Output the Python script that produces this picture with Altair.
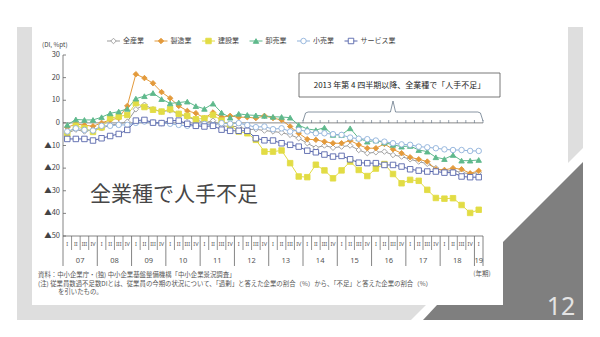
import altair as alt
import pandas as pd

# ---------------- data ----------------
quarter_labels = ["I", "II", "III", "IV"]
year_labels = ["07", "08", "09", "10", "11", "12", "13", "14", "15", "16", "17", "18", "19"]
series_names = ["全産業", "製造業", "建設業", "卸売業", "小売業", "サービス業"]
y_ticks = [30, 20, 10, 0, -10, -20, -30, -40, -50]

all_industries = [-4.5, -3.0, -3.8, -3.0, -2.4, -1.0, -0.5, 0.5, 6.0, 8.0, 6.0, 5.0,
                  5.5, 4.0, 2.5, 1.5, 0.0, 1.0, -1.3, -1.6, -1.6, -3.0, -2.8, -3.4,
                  -3.8, -4.3, -5.3, -6.8, -9.0, -11.0, -10.0, -11.0, -10.5, -10.0, -12.0, -13.4,
                  -13.0, -12.7, -14.2, -14.9, -16.1, -17.1, -18.1, -20.0, -21.5, -21.0, -22.0, -22.5,
                  -22.0]
manufacturing = [-2.0, -0.5, -1.0, -1.5, 0.0, 1.3, 2.1, 7.5, 21.5, 19.8, 17.5, 13.6,
                 10.9, 7.5, 5.3, 4.3, 2.1, 4.6, 2.5, 3.1, 2.5, 2.5, 2.1, 3.1,
                 2.1, 1.3, -1.6, -4.6, -7.2, -7.5, -8.3, -9.0, -9.0, -7.8, -9.7, -11.2,
                 -11.2, -9.3, -11.7, -13.4, -15.2, -16.1, -17.1, -20.5, -20.8, -20.0, -20.5, -22.3,
                 -21.2]
construction = [-5.0, -1.3, -2.4, -4.0, -2.0, 2.1, 2.8, 3.5, 8.7, 7.0, 5.8, 5.0,
                6.0, 4.0, 3.1, 1.6, 2.0, 3.5, 1.0, -1.0, -3.8, -4.6, -7.5, -12.7,
                -12.7, -12.2, -17.8, -23.7, -24.0, -18.5, -21.0, -24.5, -21.0, -17.1, -20.8, -23.5,
                -20.2, -18.2, -22.6, -26.7, -25.2, -25.6, -29.6, -33.2, -33.5, -33.3, -36.3, -39.8,
                -38.4]
wholesale = [-0.9, 1.5, 1.3, 1.3, 2.5, 4.2, 5.0, 6.2, 10.7, 11.8, 13.2, 10.5,
             8.6, 9.0, 9.4, 7.4, 6.2, 8.5, 4.5, 2.3, 4.0, 3.5, 3.3, 3.1,
             2.7, 2.6, 2.3, -1.0, -2.7, -3.2, -2.1, -5.3, -5.3, -2.4, -6.8, -8.3,
             -7.8, -8.7, -9.7, -10.5, -10.2, -12.0, -12.7, -15.2, -16.0, -14.2, -16.7, -16.7,
             -16.4]
retail = [-3.8, -2.4, -3.1, -3.4, -1.3, -1.3, -0.9, -0.9, 0.0, 0.6, 0.1, -0.1,
          -0.4, -0.9, -1.3, -1.3, -0.5, -1.0, -0.1, -0.4, -0.1, -1.0, -1.9, -1.6,
          -2.8, -2.4, -3.8, -3.1, -3.8, -4.6, -4.6, -5.0, -5.3, -6.5, -7.0, -7.2,
          -7.8, -8.3, -9.0, -9.5, -9.7, -10.5, -10.8, -11.2, -11.7, -12.0, -12.0, -12.4,
          -12.4]
services = [-7.1, -7.1, -7.1, -7.8, -6.8, -5.8, -4.9, -3.1, 1.0, 1.3, 0.1, -0.1,
            1.0, 1.0, -0.4, -1.3, -1.6, -1.3, -3.0, -3.5, -3.5, -3.5, -6.8, -7.7,
            -7.8, -9.0, -9.7, -10.5, -12.3, -13.0, -14.0, -14.9, -14.6, -16.1, -17.6, -17.8,
            -17.8, -18.6, -18.6, -19.3, -20.5, -21.1, -21.5, -21.5, -22.0, -22.0, -23.7, -24.0,
            -24.0]

series_values = [all_industries, manufacturing, construction, wholesale, retail, services]

title_note = "全業種で人手不足"
box_note = "2013 年第 4 四半期以降、全業種で「人手不足」"
source_line = "資料：中小企業庁・(独) 中小企業基盤整備機構「中小企業景況調査」"
note_line1 = "(注) 従業員数過不足数DIとは、従業員の今期の状況について、「過剰」と答えた企業の割合（%）から、「不足」と答えた企業の割合（%）"
note_line2 = "を引いたもの。"
y_title = "(DI, %pt)"
x_unit = "(年期)"
page_number = "12"

# ---------------- styles / layout ----------------
FONT = "Noto Sans CJK JP"
W, H = 420, 181
PL, PT = 63, 55
N_Q = len(all_industries)

line_colors = ["#9b9b9b", "#E39A3B", "#E2DC45", "#5FB98C", "#8FB1DA", "#5867AC"]
fill_colors = ["#ffffff", "#E39A3B", "#E2DC45", "#5FB98C", "#ffffff", "#ffffff"]
shapes = ["diamond", "diamond", "square", "triangle-up", "circle", "square"]
sizes = [30, 30, 18, 24, 20, 18]


def px(v):
    return v - PL


def py(v):
    return v - PT


x_scale = alt.Scale(domain=[0, N_Q], nice=False, zero=False)
y_scale = alt.Scale(domain=[-50, 30], nice=False, zero=False)

rows = []
for name, vals in zip(series_names, series_values):
    for i, v in enumerate(vals):
        rows.append({"series": name, "q": i + 0.5, "value": v})
df = pd.DataFrame(rows)

one = pd.DataFrame({"a": [0]})

# ---------------- slide decoration ----------------
frame_outer = alt.Chart(one).mark_rect(color="#dedede").encode(
    x=alt.value(px(17)), x2=alt.value(px(583)), y=alt.value(py(27)), y2=alt.value(py(320)))
frame_inner = alt.Chart(one).mark_rect(color="#ffffff").encode(
    x=alt.value(px(32)), x2=alt.value(px(568)), y=alt.value(py(27)), y2=alt.value(py(305)))

gap_bottom = alt.Chart(pd.DataFrame({"xx": [px(411), px(426), px(445)],
                                     "t": [py(320), py(305), py(305)],
                                     "b": [py(320), py(320), py(320)]})).mark_area(color="#ffffff").encode(
    x=alt.X("xx:Q", scale=None, axis=None), y=alt.Y("t:Q", scale=None, axis=None), y2="b:Q")
gap_right = alt.Chart(pd.DataFrame({"xx": [px(568), px(583)],
                                    "t": [py(163), py(148)],
                                    "b": [py(190), py(175)]})).mark_area(color="#ffffff").encode(
    x=alt.X("xx:Q", scale=None, axis=None), y=alt.Y("t:Q", scale=None, axis=None), y2="b:Q")
dark_band = alt.Chart(pd.DataFrame({"xx": [px(423), px(437), px(504)],
                                    "t": [py(320), py(305), py(305)],
                                    "b": [py(320), py(320), py(320)]})).mark_area(color="#7f7f7f").encode(
    x=alt.X("xx:Q", scale=None, axis=None), y=alt.Y("t:Q", scale=None, axis=None), y2="b:Q")
dark_diag = alt.Chart(pd.DataFrame({"xx": [px(503), px(583)],
                                    "t": [py(242), py(162)],
                                    "b": [py(320), py(320)]})).mark_area(color="#7f7f7f").encode(
    x=alt.X("xx:Q", scale=None, axis=None), y=alt.Y("t:Q", scale=None, axis=None), y2="b:Q")
page_num = alt.Chart(one).mark_text(text=page_number, font="Noto Sans", fontSize=25,
                                    color="#e4e4e4", align="center", baseline="alphabetic").encode(
    x=alt.value(px(561)), y=alt.value(py(315)))

# ---------------- axes (drawn with scales) ----------------
zero_line = alt.Chart(pd.DataFrame({"v": [0]})).mark_rule(color="#6a6a6a", strokeWidth=0.8).encode(
    y=alt.Y("v:Q", scale=y_scale, axis=None), x=alt.value(0), x2=alt.value(W))
bottom_line = alt.Chart(one).mark_rule(color="#666", strokeWidth=0.8).encode(
    x=alt.value(0), x2=alt.value(W), y=alt.value(H))
yaxis_line = alt.Chart(pd.DataFrame({"v": [min(y_ticks)], "v2": [max(y_ticks)]})).mark_rule(
    color="#666", strokeWidth=0.8).encode(
    y=alt.Y("v:Q", scale=y_scale, axis=None), y2="v2:Q", x=alt.value(0))
ytick_rules = alt.Chart(pd.DataFrame({"v": y_ticks})).mark_rule(color="#666", strokeWidth=0.8).encode(
    y=alt.Y("v:Q", scale=y_scale, axis=None), x=alt.value(0), x2=alt.value(3))
ytick_text = alt.Chart(pd.DataFrame({"v": y_ticks})).transform_calculate(
    lab="datum.v < 0 ? '▲' + (-datum.v) : '' + datum.v").mark_text(
    font=FONT, fontSize=7.5, color="#444", align="right", baseline="middle").encode(
    y=alt.Y("v:Q", scale=y_scale, axis=None), x=alt.value(-3), text="lab:N")
ytitle_text = alt.Chart(one).mark_text(text=y_title, font=FONT, fontSize=6.3, color="#444",
                                       align="left", baseline="middle").encode(
    x=alt.value(px(42)), y=alt.value(py(44.5)))

bounds = list(range(N_Q + 1))
qb = pd.DataFrame({"b": [b for b in bounds if b % 4 != 0 and b != N_Q]})
yb = pd.DataFrame({"b": [b for b in bounds if b % 4 == 0 or b == N_Q]})
q_rules = alt.Chart(qb).mark_rule(color="#666", strokeWidth=0.7).encode(
    x=alt.X("b:Q", scale=x_scale, axis=None), y=alt.value(H), y2=alt.value(H + 14))
y_rules = alt.Chart(yb).mark_rule(color="#666", strokeWidth=0.8).encode(
    x=alt.X("b:Q", scale=x_scale, axis=None), y=alt.value(H), y2=alt.value(H + 30))

qlab = pd.DataFrame({"q": [i + 0.5 for i in range(N_Q)],
                     "t": [quarter_labels[i % 4] for i in range(N_Q)]})
q_text = alt.Chart(qlab).mark_text(font="Noto Sans", fontSize=5.5, color="#555").encode(
    x=alt.X("q:Q", scale=x_scale, axis=None), y=alt.value(H + 8), text="t:N")

ylab = pd.DataFrame({"q": [(4 * k + min(4 * k + 4, N_Q)) / 2 for k in range(len(year_labels))],
                     "t": year_labels})
yr_text = alt.Chart(ylab).mark_text(font="Noto Sans", fontSize=7.5, color="#555").encode(
    x=alt.X("q:Q", scale=x_scale, axis=None), y=alt.value(H + 25), text="t:N")
unit_text = alt.Chart(one).mark_text(text=x_unit, font=FONT, fontSize=6.5, color="#555").encode(
    x=alt.value(px(482)), y=alt.value(py(274)))

# ---------------- series ----------------
lines = alt.Chart(df).mark_line(strokeWidth=1).encode(
    x=alt.X("q:Q", scale=x_scale, axis=None),
    y=alt.Y("value:Q", scale=y_scale, axis=None),
    color=alt.Color("series:N", scale=alt.Scale(domain=series_names, range=line_colors), legend=None),
    detail="series:N",
)
points = alt.Chart(df).mark_point(filled=False, strokeWidth=0.9, opacity=1).encode(
    x=alt.X("q:Q", scale=x_scale, axis=None),
    y=alt.Y("value:Q", scale=y_scale, axis=None),
    shape=alt.Shape("series:N", scale=alt.Scale(domain=series_names, range=shapes), legend=None),
    stroke=alt.Stroke("series:N", scale=alt.Scale(domain=series_names, range=line_colors), legend=None),
    fill=alt.Fill("series:N", scale=alt.Scale(domain=series_names, range=fill_colors), legend=None),
    size=alt.Size("series:N", scale=alt.Scale(domain=series_names, range=sizes), legend=None),
)

# ---------------- legend (manual) ----------------
leg = pd.DataFrame({"series": series_names, "k": list(range(len(series_names)))})
leg_base = alt.Chart(leg).transform_calculate(
    x0=f"{px(107)} + 47.5*datum.k", x1=f"{px(107)} + 47.5*datum.k + 13",
    xm=f"{px(107)} + 47.5*datum.k + 6.5", xt=f"{px(107)} + 47.5*datum.k + 16")
leg_rule = leg_base.mark_rule(strokeWidth=1).encode(
    x=alt.X("x0:Q", scale=None, axis=None), x2="x1:Q", y=alt.value(py(41)),
    color=alt.Color("series:N", scale=alt.Scale(domain=series_names, range=line_colors), legend=None))
leg_pt = leg_base.mark_point(filled=False, strokeWidth=0.9, opacity=1).encode(
    x=alt.X("xm:Q", scale=None, axis=None), y=alt.value(py(41)),
    shape=alt.Shape("series:N", scale=alt.Scale(domain=series_names, range=shapes), legend=None),
    stroke=alt.Stroke("series:N", scale=alt.Scale(domain=series_names, range=line_colors), legend=None),
    fill=alt.Fill("series:N", scale=alt.Scale(domain=series_names, range=fill_colors), legend=None),
    size=alt.Size("series:N", scale=alt.Scale(domain=series_names, range=sizes), legend=None))
leg_txt = leg_base.mark_text(font=FONT, fontSize=7, color="#444", align="left", baseline="middle").encode(
    x=alt.X("xt:Q", scale=None, axis=None), y=alt.value(py(41)), text="series:N")

# ---------------- annotations ----------------
box = alt.Chart(one).mark_rect(fill="#ffffff", stroke="#555", strokeWidth=0.8).encode(
    x=alt.value(px(299)), x2=alt.value(px(500)), y=alt.value(py(73)), y2=alt.value(py(97)))
box_txt = alt.Chart(one).mark_text(text=box_note, font=FONT, fontSize=8, color="#222",
                                   align="center", baseline="middle").encode(
    x=alt.value(px(399.5)), y=alt.value(py(85.5)))

bq0, bq1 = 28, N_Q
brace = pd.DataFrame({
    "q": [bq0, bq0 + 0.3, bq0 + 0.6, 38.2, 38.5, 38.8, bq1 - 0.6, bq1 - 0.3, bq1],
    "yy": [py(121), py(113), py(112), py(112), py(101), py(112), py(112), py(113), py(121)],
    "o": list(range(9))})
brace_line = alt.Chart(brace).mark_line(color="#6a7a8a", strokeWidth=0.8).encode(
    x=alt.X("q:Q", scale=x_scale, axis=None), y=alt.Y("yy:Q", scale=None, axis=None), order="o:Q")
brace_ticks = alt.Chart(pd.DataFrame({"b": list(range(bq0, bq1 + 1))})).mark_rule(
    color="#6a7a8a", strokeWidth=0.7).encode(
    x=alt.X("b:Q", scale=x_scale, axis=None), y=alt.value(py(120)), y2=alt.value(py(123)))

big_text = alt.Chart(one).mark_text(text=title_note, font=FONT, fontSize=21, color="#474747",
                                    align="left", baseline="middle").encode(
    x=alt.value(px(90)), y=alt.value(py(195)))

src_txt = alt.Chart(one).mark_text(text=source_line, font=FONT, fontSize=6.4, color="#555",
                                   align="left", baseline="middle").encode(
    x=alt.value(px(38)), y=alt.value(py(275)))
note1_txt = alt.Chart(one).mark_text(text=note_line1, font=FONT, fontSize=6.4, color="#555",
                                     align="left", baseline="middle").encode(
    x=alt.value(px(38)), y=alt.value(py(283.5)))
note2_txt = alt.Chart(one).mark_text(text=note_line2, font=FONT, fontSize=6.4, color="#555",
                                     align="left", baseline="middle").encode(
    x=alt.value(px(58)), y=alt.value(py(292)))

chart = alt.layer(
    frame_outer, frame_inner, gap_bottom, gap_right, dark_band, dark_diag, page_num,
    zero_line, brace_ticks, brace_line, box, box_txt,
    lines, points, bottom_line, yaxis_line, ytick_rules, ytick_text, ytitle_text,
    q_rules, y_rules, q_text, yr_text, unit_text,
    leg_rule, leg_pt, leg_txt, big_text, src_txt, note1_txt, note2_txt,
).properties(
    width=W, height=H,
    padding={"left": PL, "top": PT, "right": 600 - PL - W, "bottom": 337 - PT - H},
    autosize=alt.AutoSizeParams(type="none"),
    background="#ffffff",
).configure_view(stroke=None)

chart.save("out.html", embed_options={"renderer": "svg", "actions": False})
